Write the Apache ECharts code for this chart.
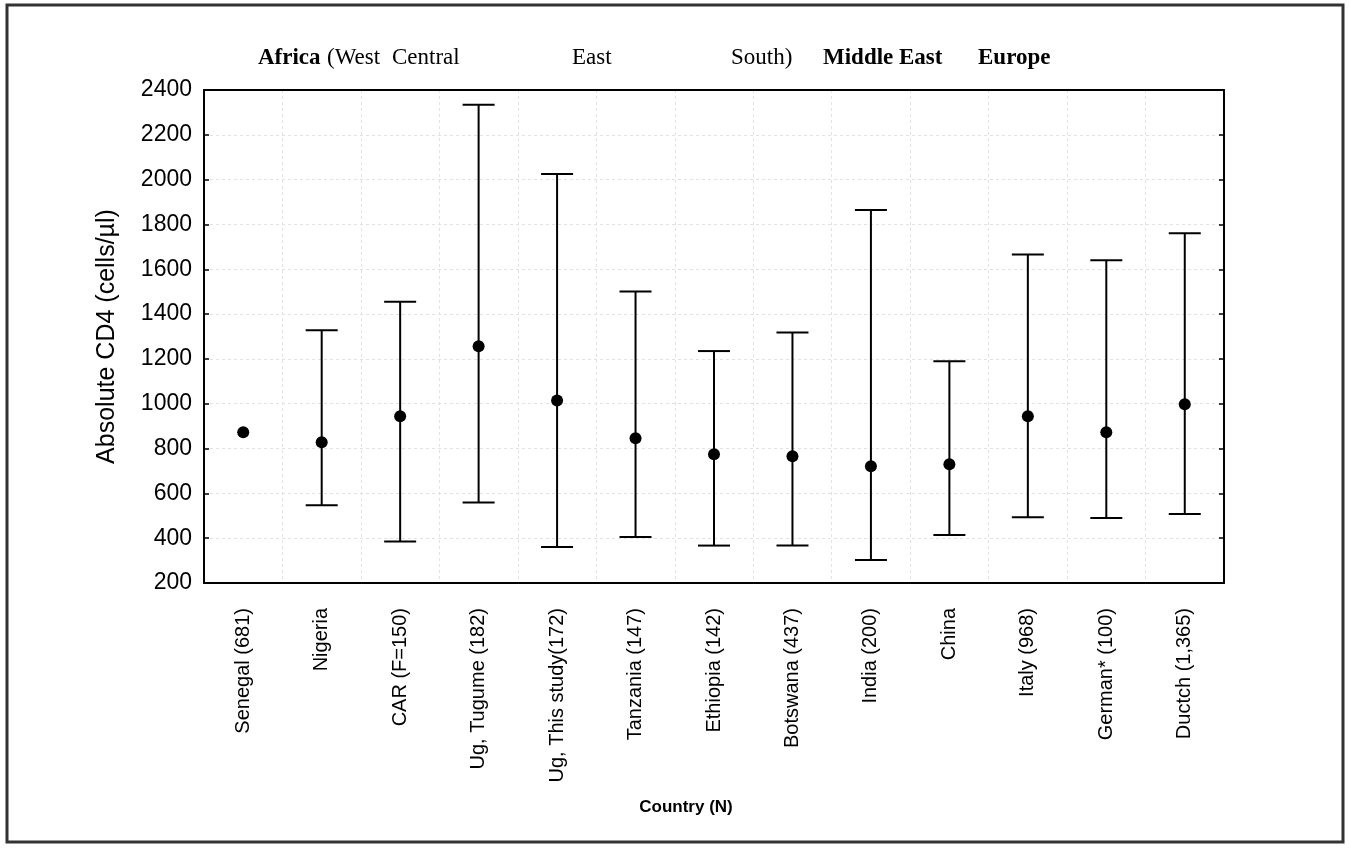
<!DOCTYPE html>
<html>
<head>
<meta charset="utf-8">
<script src="https://cdn.jsdelivr.net/npm/echarts@6/dist/echarts.min.js"></script>
<style>
  html, body { margin: 0; padding: 0; background: #fff; }
  #chart { width: 1349px; height: 848px; }
</style>
</head>
<body>
<div id="chart"></div>
<script>
const categories = ['Senegal (681)', 'Nigeria', 'CAR (F=150)', 'Ug, Tugume (182)', 'Ug, This study(172)', 'Tanzania (147)', 'Ethiopia (142)', 'Botswana (437)', 'India (200)', 'China', 'Italy (968)', 'German* (100)', 'Ductch (1,365)'];
const means = [873, 828, 944, 1257, 1014, 846, 775, 766, 721, 730, 944, 873, 998];
const lower = [null, 547, 385, 559, 361, 405, 367, 367, 303, 414, 493, 490, 508];
const upper = [null, 1328, 1455, 2334, 2025, 1501, 1235, 1318, 1864, 1189, 1666, 1640, 1761];
const regionLabels = [
  { text: 'Africa', bold: true, x: 258 },
  { text: '(West', bold: false, x: 327 },
  { text: 'Central', bold: false, x: 392 },
  { text: 'East', bold: false, x: 572 },
  { text: 'South)', bold: false, x: 731 },
  { text: 'Middle East', bold: true, x: 823 },
  { text: 'Europe', bold: true, x: 978 }
];

const errData = [];
categories.forEach((c, i) => {
  if (lower[i] != null) errData.push([i, lower[i], upper[i]]);
});

const chart = echarts.init(document.getElementById('chart'));
const sans = '"Liberation Sans", Arial, sans-serif';
const serif = '"Liberation Serif", "Times New Roman", serif';

const gridLine = { show: true, lineStyle: { color: '#e2e2e2', type: [3, 3], width: 1 } };

chart.setOption({
  backgroundColor: '#fff',
  animation: false,
  grid: { left: 204, right: 125, top: 90, bottom: 265, containLabel: false },
  xAxis: [{
    type: 'category',
    data: categories,
    boundaryGap: true,
    axisLine: { lineStyle: { color: '#000', width: 2 } },
    axisTick: { inside: true, length: 5, lineStyle: { color: '#000', width: 1.5 } },
    axisLabel: { rotate: 90, fontFamily: sans, fontSize: 20, color: '#000', margin: 25, interval: 0 },
    splitLine: gridLine
  }, {
    type: 'category',
    data: categories,
    position: 'top',
    boundaryGap: true,
    axisLine: { lineStyle: { color: '#000', width: 2 } },
    axisTick: { inside: true, length: 5, lineStyle: { color: '#000', width: 1.5 } },
    axisLabel: { show: false },
    splitLine: { show: false }
  }],
  yAxis: [{
    type: 'value',
    min: 200, max: 2400, interval: 200,
    name: 'Absolute CD4 (cells/\u00b5l)',
    nameLocation: 'middle',
    nameRotate: 90,
    nameGap: 84,
    nameTextStyle: { fontFamily: sans, fontSize: 25, color: '#000' },
    axisLine: { show: true, lineStyle: { color: '#000', width: 2 } },
    axisTick: { show: true, inside: true, length: 5, lineStyle: { color: '#000', width: 1.5 } },
    axisLabel: { fontFamily: sans, fontSize: 23, color: '#000', margin: 12, formatter: v => String(v) },
    splitLine: gridLine
  }, {
    type: 'value',
    min: 200, max: 2400, interval: 200,
    position: 'right',
    axisLine: { show: true, lineStyle: { color: '#000', width: 2 } },
    axisTick: { show: true, inside: true, length: 5, lineStyle: { color: '#000', width: 1.5 } },
    axisLabel: { show: false },
    splitLine: { show: false }
  }],
  series: [{
    type: 'custom',
    xAxisIndex: 0, yAxisIndex: 0,
    data: errData,
    encode: { x: 0, y: [1, 2] },
    renderItem: function (params, api) {
      const i = api.value(0);
      const lo = api.coord([i, api.value(1)]);
      const hi = api.coord([i, api.value(2)]);
      const hw = 16;
      const st = { stroke: '#000', lineWidth: 2 };
      return {
        type: 'group',
        children: [
          { type: 'line', shape: { x1: lo[0], y1: lo[1], x2: hi[0], y2: hi[1] }, style: st },
          { type: 'line', shape: { x1: hi[0] - hw, y1: hi[1], x2: hi[0] + hw, y2: hi[1] }, style: st },
          { type: 'line', shape: { x1: lo[0] - hw, y1: lo[1], x2: lo[0] + hw, y2: lo[1] }, style: st }
        ]
      };
    },
    z: 2
  }, {
    type: 'scatter',
    xAxisIndex: 0, yAxisIndex: 0,
    data: means,
    symbol: 'circle',
    symbolSize: 12,
    itemStyle: { color: '#000', opacity: 1 },
    z: 3
  }],
  graphic: [
    { type: 'rect', shape: { x: 7, y: 5, width: 1336, height: 837 }, style: { fill: 'none', stroke: '#333', lineWidth: 3 }, silent: true },
    { type: 'text', x: 686, y: 807, style: { text: 'Country (N)', font: 'bold 17px ' + sans, fill: '#000', textAlign: 'center', textVerticalAlign: 'middle' } }
  ].concat(regionLabels.map(r => ({
    type: 'text', x: r.x, y: 58,
    style: { text: r.text, font: (r.bold ? 'bold ' : '') + '23px ' + serif, fill: '#000', textVerticalAlign: 'middle' }
  })))
});
</script>
</body>
</html>
